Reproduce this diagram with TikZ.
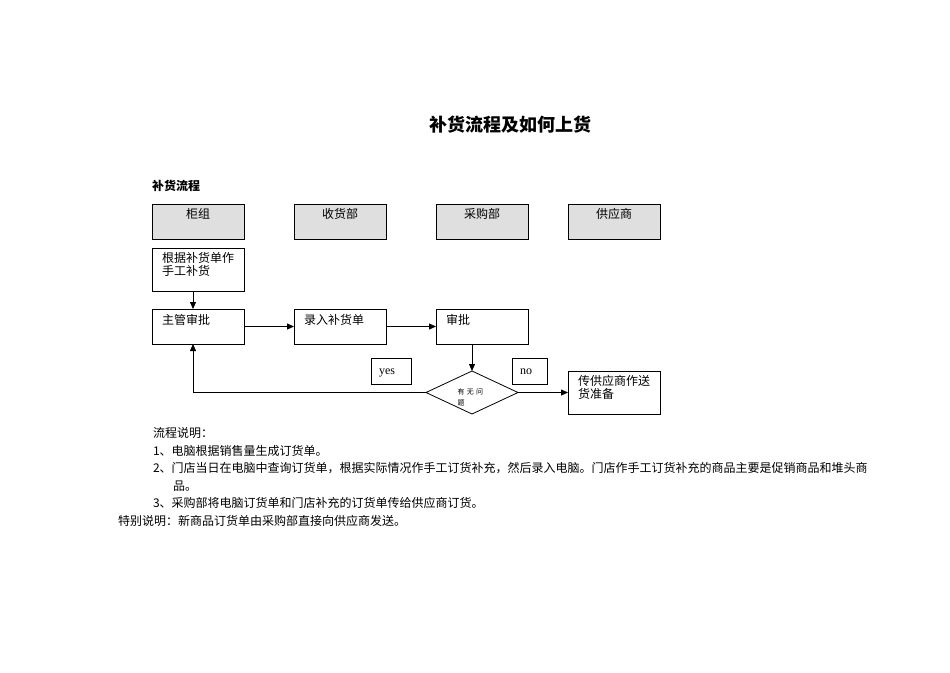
\documentclass[tikz,border=0pt]{standalone}
\usepackage{fontspec}
\setmainfont{Noto Sans CJK SC}
\newfontfamily\latinfont{Liberation Serif}
\usepackage{tikz}
\usetikzlibrary{arrows.meta,positioning,shapes.geometric}

\begin{document}
\begin{tikzpicture}[
    x=1pt, y=-1pt,
    every node/.style={font=\fontsize{12}{12.5}\selectfont, outer sep=0pt},
    lane/.style={draw, line width=0.8pt, fill=gray!25, minimum width=92pt, minimum height=35pt, inner sep=0pt, text height=9pt, text depth=15pt},
    stepbox/.style={draw, line width=0.8pt, align=left, text width=72pt, inner xsep=10pt, inner ysep=0pt, minimum height=35pt, text height=9pt, text depth=14pt},
    tallbox/.style={stepbox, minimum height=43pt, text depth=23pt},
    decision/.style={draw, line width=0.8pt, diamond, minimum width=92pt, minimum height=43pt, inner sep=0pt, align=left, text width=29pt, text height=5pt, text depth=1pt, font=\fontsize{7}{11}\selectfont},
    tagbox/.style={draw, line width=0.8pt, align=left, inner xsep=8pt, inner ysep=0pt, minimum height=26pt, text height=8pt, text depth=2pt, font=\latinfont\fontsize{12}{12}\selectfont},
    flow/.style={-{Triangle[length=7pt,width=6pt]}, line width=0.8pt},
    lbl/.style={font=\bfseries\fontsize{12}{12}\selectfont}
]
\useasboundingbox (0,0) rectangle (950,672);

\node[font=\bfseries\fontsize{18}{18}\selectfont] (title) at (510,125) {补货流程及如何上货};
\node[lbl, anchor=west, inner sep=0pt] (flowlbl) at (152,186) {补货流程};

% lanes
\node[lane, anchor=north west] (counter) at (152,204) {柜组};
\node[lane, right=50pt of counter] (receiving) {收货部};
\node[lane, right=50pt of receiving] (purchasing) {采购部};
\node[lane, right=40pt of purchasing] (supplier) {供应商};

% steps
\node[tallbox, below=9pt of counter] (manual) {根据补货单作\\手工补货};
\node[stepbox, below=18pt of manual] (approve) {主管审批};
\node[stepbox, right=50pt of approve] (entry) {录入补货单};
\node[stepbox, right=50pt of entry] (review) {审批};
\node[decision, below=27pt of review, xshift=-10pt] (check) {有\ 无\ 问\\题};
\node[tallbox, right=50pt of check] (send) {传供应商作送\\货准备};

\node[tagbox, text width=24pt, anchor=north west] (yes) at (371,358) {yes};
\node[tagbox, text width=19pt, anchor=north west] (no) at (512,358) {no};

\draw[flow] ([xshift=-5pt]manual.south) -- ([xshift=-5pt]approve.north);
\draw[flow] (approve) -- (entry);
\draw[flow] (entry) -- (review);
\draw[flow] (review.south -| check.north) -- (check.north);
\draw[flow] (check.west) -| ([xshift=-5pt]approve.south);
\draw[flow] (check) -- (send);

% notes
\node[anchor=base west, text width=780pt, align=left, inner sep=0pt, font=\fontsize{12}{17.6}\selectfont] (notes) at (118,437.5)
  {\hspace*{35pt}流程说明：\\
   \hspace*{35pt}1、电脑根据销售量生成订货单。\\
   \hspace*{35pt}2、门店当日在电脑中查询订货单，根据实际情况作手工订货补充，然后录入电脑。门店作手工订货补充的商品主要是促销商品和堆头商\\
   \hspace*{55pt}品。\\
   \hspace*{35pt}3、采购部将电脑订货单和门店补充的订货单传给供应商订货。\\
   特别说明：新商品订货单由采购部直接向供应商发送。};
\end{tikzpicture}
\end{document}
